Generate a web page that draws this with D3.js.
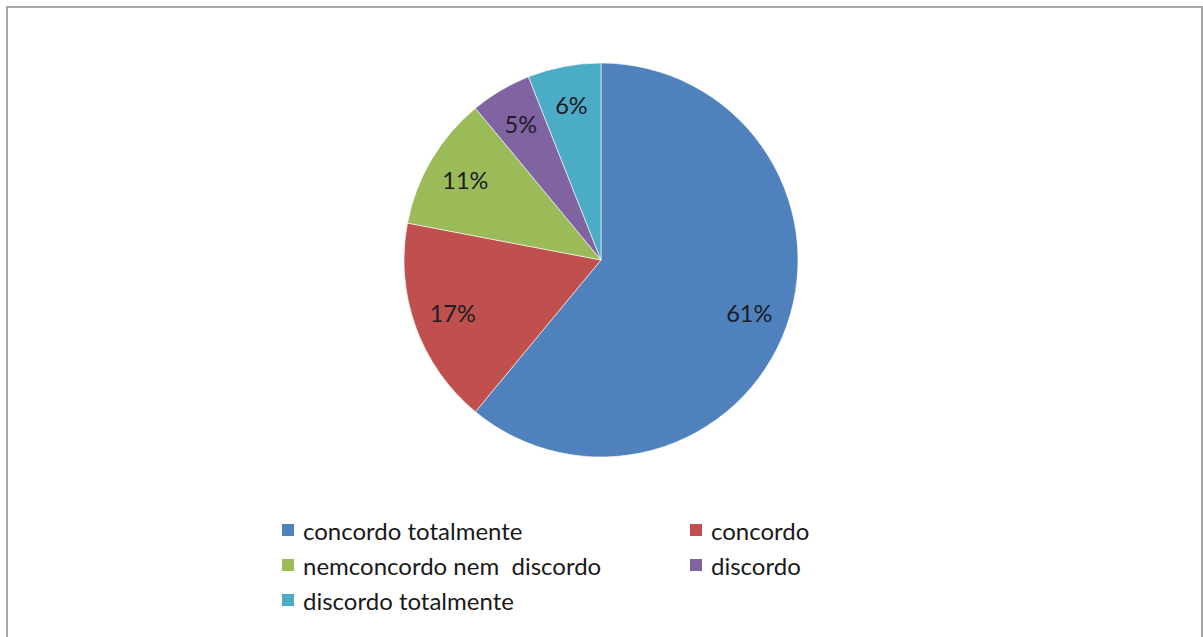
<!DOCTYPE html>
<html>
<head>
<meta charset="utf-8">
<script src="https://cdn.jsdelivr.net/npm/d3@7"></script>
<style>
  html, body { margin: 0; padding: 0; background: #fff; }
  svg { display: block; }
  text { font-family: Lato, "Open Sans", sans-serif; white-space: pre; }
</style>
</head>
<body>
<svg id="chart" width="1203" height="637"></svg>
<script>
// Survey answers and their shares (percent)
const categories = ["concordo totalmente", "concordo", "nem concordo nem discordo", "discordo", "discordo totalmente"];
const legendLabels = ["concordo totalmente", "concordo", "nemconcordo nem  discordo", "discordo", "discordo totalmente"];
const values = [61, 17, 11, 5, 6];
const colors = ["#4F81BD", "#C0504D", "#9BBB59", "#8064A2", "#4BACC6"];

const svg = d3.select("#chart");

// chart frame
svg.append("rect")
  .attr("x", 7).attr("y", 7)
  .attr("width", 1195).attr("height", 640)
  .attr("fill", "#fff")
  .attr("stroke", "#a6a6a6")
  .attr("stroke-width", 2);

const cx = 601, cy = 260, r = 197;

const pie = d3.pie().sort(null).value(d => d.value);
const data = categories.map((c, i) => ({ name: c, value: values[i], color: colors[i] }));
const arcs = pie(data);

const arc = d3.arc().innerRadius(0).outerRadius(r);
const labelArc = d3.arc().innerRadius(r * 0.8).outerRadius(r * 0.8);

const g = svg.append("g").attr("transform", `translate(${cx},${cy})`);

g.selectAll("path.slice")
  .data(arcs)
  .enter().append("path")
  .attr("class", "slice")
  .attr("d", arc)
  .attr("fill", d => d.data.color)
  .attr("stroke", "#fff")
  .attr("stroke-width", 0.6);

g.selectAll("text.pct")
  .data(arcs)
  .enter().append("text")
  .attr("class", "pct")
  .attr("transform", d => `translate(${labelArc.centroid(d)})`)
  .attr("text-anchor", "middle")
  .attr("dominant-baseline", "central")
  .attr("font-size", 23.5)
  .attr("fill", "#1c1c24")
  .text(d => d.data.value + "%");

// legend: two columns, filled row by row
const legendX = [282, 690];
const legendY = [530, 565, 600];
const legend = svg.append("g");
legendLabels.forEach((lab, i) => {
  const col = i % 2, row = Math.floor(i / 2);
  const item = legend.append("g")
    .attr("transform", `translate(${legendX[col]},${legendY[row]})`);
  item.append("rect")
    .attr("x", 0).attr("y", -6)
    .attr("width", 12).attr("height", 12)
    .attr("fill", colors[i]);
  item.append("text")
    .attr("x", 21).attr("y", 0)
    .attr("dominant-baseline", "central")
    .attr("font-size", 24)
    .attr("fill", "#1a1a1a")
    .text(lab);
});
</script>
</body>
</html>
